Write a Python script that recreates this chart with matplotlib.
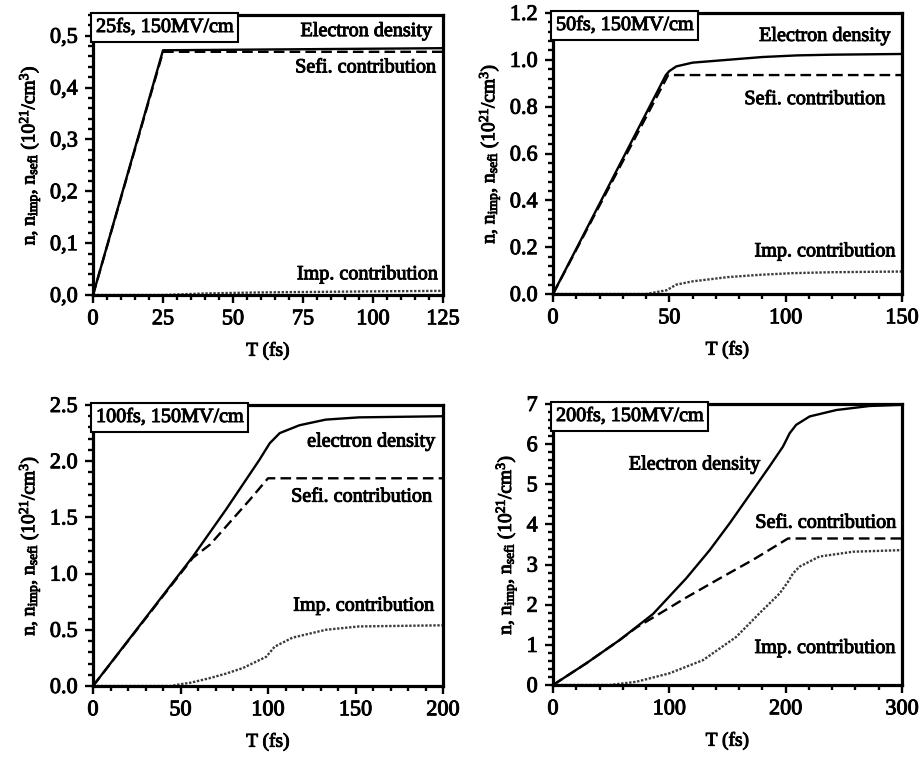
import matplotlib
matplotlib.use("Agg")
import matplotlib.pyplot as plt
import matplotlib.patheffects as pe
from matplotlib.offsetbox import AnchoredText
from matplotlib.ticker import MultipleLocator

plt.rcParams['font.family'] = ['Liberation Serif', 'DejaVu Serif']
plt.rcParams['mathtext.fontset'] = 'custom'
plt.rcParams['mathtext.rm'] = 'Liberation Serif'
plt.rcParams['mathtext.it'] = 'Liberation Serif:italic'

# ---- panel 1: 25 fs ----
t1_el = [0, 25, 50, 75, 100, 125]
n1_el = [0, 0.472, 0.473, 0.474, 0.475, 0.476]
t1_sefi = [0, 25, 125]
n1_sefi = [0, 0.469, 0.469]
t1_imp = [0, 25, 30, 40, 60, 80, 100, 125]
n1_imp = [0, 0, 0.001, 0.003, 0.005, 0.006, 0.007, 0.008]
y1_ticks = [0, 0.1, 0.2, 0.3, 0.4, 0.5]
y1_labels = ['0,0', '0,1', '0,2', '0,3', '0,4', '0,5']

# ---- panel 2: 50 fs ----
t2_el = [0, 48.5, 50, 53, 60, 75, 90, 105, 120, 150]
n2_el = [0, 0.935, 0.952, 0.972, 0.988, 1.0, 1.012, 1.019, 1.022, 1.025]
t2_sefi = [0, 49.5, 150]
n2_sefi = [0, 0.935, 0.935]
t2_imp = [0, 40, 48.8, 53, 60, 75, 89, 103, 120, 150]
n2_imp = [0, 0, 0.016, 0.04, 0.054, 0.072, 0.082, 0.089, 0.093, 0.096]
y2_ticks = [0, 0.2, 0.4, 0.6, 0.8, 1.0, 1.2]
y2_labels = ['0.0', '0.2', '0.4', '0.6', '0.8', '1.0', '1.2']

# ---- panel 3: 100 fs ----
t3_el = [0, 57, 76, 95, 101, 106.7, 118, 133, 152, 200]
n3_el = [0, 1.15, 1.57, 2.01, 2.16, 2.25, 2.32, 2.37, 2.39, 2.40]
t3_sefi = [0, 57, 67, 89.5, 100, 200]
n3_sefi = [0, 1.14, 1.26, 1.655, 1.848, 1.848]
t3_imp = [0, 45, 47.6, 56, 66.7, 76, 85.7, 99, 103.8, 114, 133, 152, 200]
n3_imp = [0, 0, 0.01, 0.03, 0.07, 0.11, 0.16, 0.26, 0.35, 0.43, 0.50, 0.53, 0.54]
y3_ticks = [0, 0.5, 1.0, 1.5, 2.0, 2.5]
y3_labels = ['0.0', '0.5', '1.0', '1.5', '2.0', '2.5']

# ---- panel 4: 200 fs ----
t4_el = [0, 28.6, 57.3, 86, 114.6, 134.7, 151.9, 172, 186, 197.7, 203.4, 209, 220.6, 243.6, 272, 300]
n4_el = [0, 0.54, 1.12, 1.77, 2.66, 3.36, 4.03, 4.86, 5.44, 5.94, 6.27, 6.48, 6.69, 6.85, 6.95, 6.98]
t4_sefi = [0, 28.6, 57.3, 71.6, 86, 114.6, 143, 172, 202, 300]
n4_sefi = [0, 0.54, 1.12, 1.43, 1.68, 2.18, 2.65, 3.12, 3.65, 3.65]
t4_imp = [0, 48.7, 71.6, 100, 129, 157.6, 177.6, 194.8, 202, 206.3, 212, 229, 258, 300]
n4_imp = [0, 0, 0.08, 0.29, 0.62, 1.2, 1.79, 2.28, 2.57, 2.78, 2.95, 3.2, 3.32, 3.36]
y4_ticks = [0, 1, 2, 3, 4, 5, 6, 7]
y4_labels = ['0', '1', '2', '3', '4', '5', '6', '7']

W, H = 919, 761
fig = plt.figure(figsize=(W / 100, H / 100), dpi=100)

heavy = [pe.withStroke(linewidth=0.7, foreground='black')]

panels = [
    dict(rect=(93, 15, 443, 295), xlim=125, xmaj=25, xmin=5, ylim=0.54, ymin=0.02,
         yt=y1_ticks, yl=y1_labels, title='25fs, 150MV/cm',
         el=(t1_el, n1_el), sefi=(t1_sefi, n1_sefi), imp=(t1_imp, n1_imp),
         labels=[('Electron density', 121, 0.508), ('Sefi. contribution', 122.5, 0.438),
                 ('Imp. contribution', 123, 0.039)]),
    dict(rect=(553, 13, 902, 294), xlim=150, xmaj=50, xmin=10, ylim=1.2, ymin=0.04,
         yt=y2_ticks, yl=y2_labels, title='50fs, 150MV/cm',
         el=(t2_el, n2_el), sefi=(t2_sefi, n2_sefi), imp=(t2_imp, n2_imp),
         labels=[('Electron density', 145, 1.10), ('Sefi. contribution', 142.8, 0.83),
                 ('Imp. contribution', 147, 0.18)]),
    dict(rect=(93, 405, 443, 686), xlim=200, xmaj=50, xmin=10, ylim=2.5, ymin=0.1,
         yt=y3_ticks, yl=y3_labels, title='100fs, 150MV/cm',
         el=(t3_el, n3_el), sefi=(t3_sefi, n3_sefi), imp=(t3_imp, n3_imp),
         labels=[('electron density', 195.5, 2.17), ('Sefi. contribution', 193.7, 1.68),
                 ('Imp. contribution', 194.7, 0.71)]),
    dict(rect=(553, 404, 902, 685), xlim=300, xmaj=100, xmin=20, ylim=7, ymin=0.2,
         yt=y4_ticks, yl=y4_labels, title='200fs, 150MV/cm',
         el=(t4_el, n4_el), sefi=(t4_sefi, n4_sefi), imp=(t4_imp, n4_imp),
         labels=[('Electron density', 178, 5.48), ('Sefi. contribution', 295, 4.03),
                 ('Imp. contribution', 294, 0.91)]),
]

for p in panels:
    x0, y0, x1, y1 = p['rect']
    ax = fig.add_axes([x0 / W, 1 - y1 / H, (x1 - x0) / W, (y1 - y0) / H])

    ax.plot(*p['el'], color='black', lw=1.7, solid_joinstyle='round')
    ax.plot(*p['sefi'], color='black', lw=1.7, dashes=(4.5, 2.2))
    ax.plot(*p['imp'], color='#3a3a3a', lw=1.7, linestyle=(0, (1, 0.7)))

    for txt, tx, ty in p['labels']:
        ax.text(tx, ty, txt, ha='right', va='center', fontsize=14.5, path_effects=heavy)

    at = AnchoredText(p['title'], loc='upper left', frameon=True, borderpad=0,
                      pad=0.15, prop=dict(size=14.5, path_effects=heavy))
    at.patch.set_boxstyle('square,pad=0.1')
    at.patch.set_linewidth(1.5)
    ax.add_artist(at)

    ax.set_xlim(0, p['xlim'])
    ax.set_ylim(0, p['ylim'])
    ax.xaxis.set_major_locator(MultipleLocator(p['xmaj']))
    ax.xaxis.set_minor_locator(MultipleLocator(p['xmin']))
    ax.set_yticks(p['yt'])
    ax.set_yticklabels(p['yl'])
    ax.yaxis.set_minor_locator(MultipleLocator(p['ymin']))

    ax.tick_params(which='both', direction='out', top=False, right=False,
                   width=1.7, labelsize=16, pad=5)
    ax.tick_params(which='major', length=6)
    ax.tick_params(which='minor', length=3.5)
    for lab in ax.get_xticklabels() + ax.get_yticklabels():
        lab.set_path_effects(heavy)
    for sp in ax.spines.values():
        sp.set_linewidth(2.3)

    xl = ax.set_xlabel('T (fs)', fontsize=14, labelpad=9)
    yl = ax.set_ylabel(r'n, n$_{\rm imp}$, n$_{\rm sefi}$ (10$^{21}$/cm$^{3}$)', fontsize=14,
                       labelpad=5)
    xl.set_path_effects(heavy)
    yl.set_path_effects(heavy)

fig.savefig('out.png', dpi=100)
